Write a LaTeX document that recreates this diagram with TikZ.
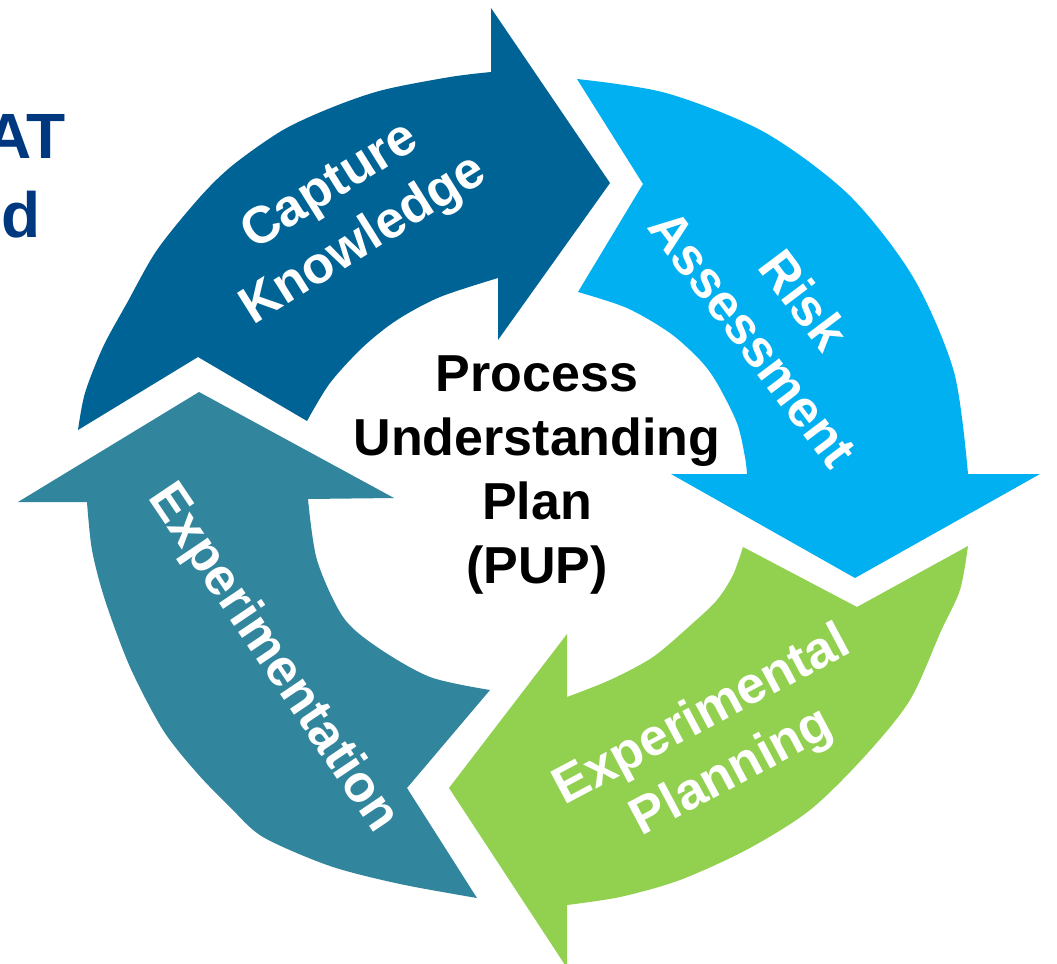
\documentclass[tikz,border=0pt]{standalone}
\usepackage{fontspec}
\setmainfont{Liberation Sans}
\definecolor{capblue}{RGB}{0,99,149}
\definecolor{riskblue}{RGB}{0,176,240}
\definecolor{plangreen}{RGB}{146,208,80}
\definecolor{expteal}{RGB}{49,133,156}
\definecolor{navytext}{RGB}{0,56,128}
\begin{document}
\begin{tikzpicture}[x=0.5pt,y=-0.5pt,
  lbl/.style={text=white, font=\bfseries\fontsize{26}{32}\selectfont,
    align=center, inner sep=0pt, anchor=north},
  ctr/.style={text=black, font=\bfseries\fontsize{26}{32}\selectfont,
    align=center, inner sep=0pt, anchor=north},
  side/.style={text=navytext, font=\bfseries\fontsize{32}{40}\selectfont,
    inner sep=0pt, anchor=base east}]

\useasboundingbox (0,0) rectangle (1057,964);
\clip (0,0) rectangle (1057,964);
\fill[white] (0,0) rectangle (1057,964);

% Capture Knowledge (top, pointing right)
\fill[capblue] (78,430) -- (198,357) -- (307,421)
  -- plot[smooth] coordinates {(307,421) (330,383) (363,347) (397,320) (440,297) (498,278)}
  -- (498,340) -- (610,183) -- (491,8) -- (491,72)
  -- plot[smooth] coordinates {(491,72) (450,77) (383,90) (333,107) (283,130) (233,165)
       (200,197) (157,250) (127,303) (103,347) (85,393) (78,430)}
  -- cycle;

% Risk Assessment (right, pointing down)
\fill[riskblue] (577,79) -- (643,184) -- (578,292)
  -- plot[smooth] coordinates {(578,292) (627,308) (670,333) (700,360) (717,383) (737,423) (745,457) (747,474)}
  -- (671,474) -- (855,578) -- (1040,474) -- (968,474)
  -- plot[smooth] coordinates {(968,474) (954,372) (913,277) (849,195) (764,132) (666,93) (577,79)}
  -- cycle;

% Experimental Planning (bottom, pointing left)
\fill[plangreen] (968,546) -- (857,607) -- (743,547)
  -- plot[smooth] coordinates {(743,547) (733,575) (717,600) (693,623) (653,657) (610,680) (567,697)}
  -- (567,634) -- (449,788) -- (567,968) -- (567,905)
  -- plot[smooth] coordinates {(567,905) (620,897) (680,880) (748,849) (810,810) (865,756)
       (910,700) (941,631) (960,590) (968,546)}
  -- cycle;

% Experimentation (left, pointing up)
\fill[expteal] (490,690) -- (407,788) -- (477,898)
  -- plot[smooth] coordinates {(477,898) (400,884) (330,866) (263,837) (230,807) (197,773)
       (163,730) (130,667) (105,600) (92,550) (87,502)}
  -- (18,502) -- (199,392) -- (394,498) -- (308,499)
  -- plot[smooth] coordinates {(308,499) (317,560) (343,617) (377,647) (430,677) (490,690)}
  -- cycle;

% Labels on the arrows
\node[lbl, rotate=32]  (capture) at (318,167) {Capture\\Knowledge};
\node[lbl, rotate=-53] (risk)    at (820,288) {Risk\\Assessment};
\node[lbl, rotate=28]  (plan)    at (691,695) {Experimental\\Planning};
\node[lbl, rotate=-56] (expt)    at (293,645) {Experimentation};

% Centre text
\node[ctr] (pup) at (537,355) {Process\\Understanding\\Plan\\(PUP)};

% Heading text running in from the left
\node[side] (head1) at (66,158) {AT};
\node[side] (head2) at (41,237) {d};
\end{tikzpicture}
\end{document}
